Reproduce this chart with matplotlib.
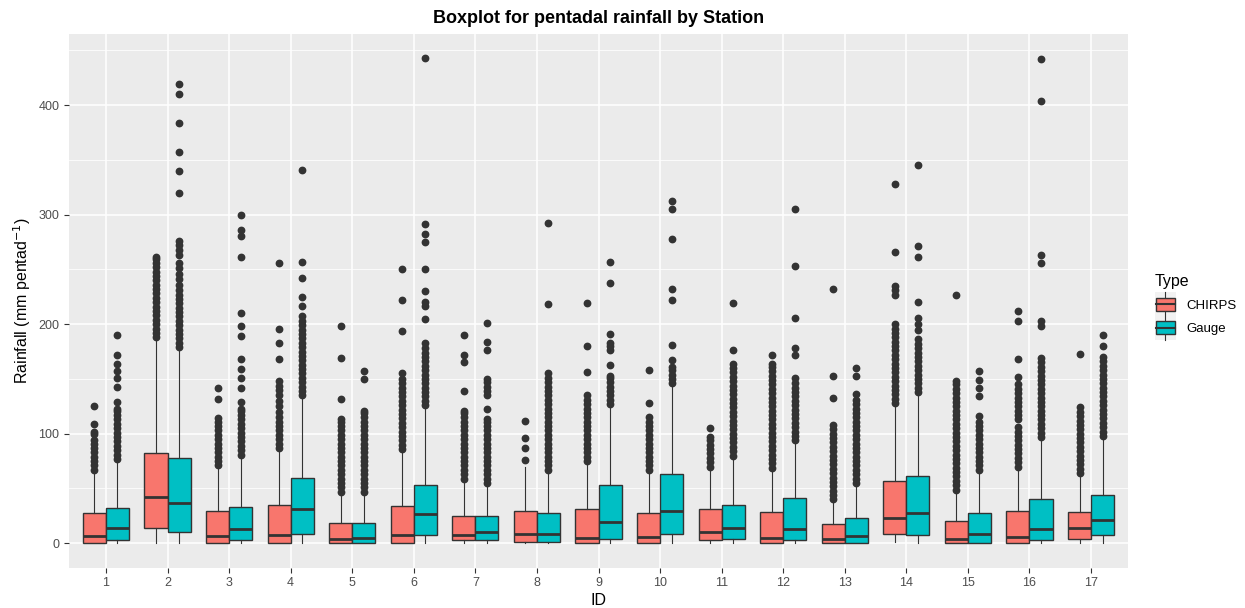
import numpy as np
import matplotlib
matplotlib.use('Agg')
import matplotlib.pyplot as plt
from matplotlib.legend_handler import HandlerBase
from matplotlib.patches import Rectangle
from matplotlib.lines import Line2D

plt.rcParams['font.family'] = ['Liberation Sans', 'DejaVu Sans']

### Data (mm pentad^-1)
ids = list(range(1, 18))
types = ['CHIRPS', 'Gauge']

q1_chirps  = [0, 14.2, 0.6, 0, 0.6, 0, 2.8, 1.6, 0, 0.6, 2.8, 0.6, 0.6, 8.8, 0.6, 0.6, 4.1]
med_chirps = [6.3, 41.9, 6.3, 7.2, 4.1, 7.2, 7.2, 8.2, 5, 6, 10, 5, 4.1, 22.7, 4.1, 6, 13.5]
q3_chirps  = [27.4, 82.8, 29.3, 34.6, 18.9, 33.7, 25.2, 29.3, 30.9, 27.4, 30.9, 28.3, 17.3, 57.3, 20.5, 29.3, 28.3]
lo_chirps  = [0, 0, 0, 0, 0, 0, 0, 0, 0, 0, 0, 0, 0, 1, 0, 0, 0]
hi_chirps  = [66, 186, 70, 86, 46, 85, 58, 70, 74, 66, 69, 68, 39, 127, 48, 69, 63]

q1_gauge  = [2.8, 10.7, 2.8, 8.8, 0.6, 7.2, 2.8, 1.6, 4.1, 8.2, 4.1, 3.1, 0.6, 7.9, 0.6, 3.1, 7.2]
med_gauge = [13.5, 36.9, 12.6, 31.5, 5, 26.8, 10, 8.2, 19.5, 29.3, 14.2, 12.6, 6.3, 27.4, 8.2, 12.6, 21.4]
q3_gauge  = [32.4, 78, 33.4, 59.8, 18.9, 52.9, 25.2, 27.4, 52.9, 63, 34.6, 41, 22.7, 61, 27.4, 40, 44]
lo_gauge  = [0] * 17
hi_gauge  = [76, 177, 80, 134, 46, 125, 54, 66, 126, 145, 79, 93, 53.5, 137, 66, 96, 97]

out_chirps = [
    [67, 71, 75, 79, 83, 87, 91, 94, 100, 102, 109, 125],
    [188, 192, 196, 200, 204, 208, 212, 216, 220, 224, 228, 232, 236, 240, 244, 248, 252, 256, 259, 261],
    [71, 75, 79, 83, 87, 91, 95, 99, 103, 107, 111, 114, 132, 142],
    [87, 91, 95, 99, 103, 107, 111, 115, 120, 125, 130, 135, 140, 144, 148, 168, 183, 196, 256],
    [47, 51, 55, 59, 63, 67, 71, 75, 79, 83, 87, 91, 95, 99, 103, 107, 111, 113, 132, 169, 198],
    [86, 90, 94, 98, 102, 106, 110, 114, 118, 122, 126, 130, 134, 138, 142, 146, 150, 155, 194, 222, 250],
    [59, 63, 67, 71, 75, 79, 83, 87, 91, 95, 99, 103, 107, 111, 115, 119, 121, 139, 165, 172, 190],
    [76, 87, 96, 112],
    [75, 79, 83, 87, 91, 95, 99, 103, 107, 111, 115, 119, 123, 127, 131, 135, 156, 180, 219],
    [67, 71, 75, 79, 83, 87, 91, 95, 99, 103, 107, 111, 115, 128, 158],
    [70, 74, 78, 82, 86, 90, 94, 97, 105],
    [69, 73, 77, 81, 85, 89, 93, 97, 101, 105, 109, 113, 117, 121, 125, 129, 133, 137, 141, 145,
     149, 153, 157, 161, 164, 172],
    [40, 44, 48, 52, 56, 60, 64, 68, 72, 76, 80, 84, 88, 92, 96, 100, 104, 108, 133, 153, 232],
    [128, 132, 136, 140, 144, 148, 152, 156, 160, 164, 168, 172, 176, 180, 184, 188, 192, 196, 200,
     227, 231, 235, 266, 328],
    [49, 53, 57, 61, 65, 69, 73, 77, 81, 85, 89, 93, 97, 101, 105, 109, 113, 117, 121, 125, 129,
     133, 137, 141, 145, 148, 227],
    [70, 74, 78, 82, 86, 90, 94, 98, 102, 106, 113, 117, 121, 125, 129, 133, 137, 141, 145, 152,
     168, 203, 212],
    [64, 68, 72, 76, 80, 84, 88, 92, 96, 100, 104, 108, 112, 116, 120, 124, 173],
]

out_gauge = [
    [77, 81, 85, 89, 93, 97, 101, 105, 109, 113, 117, 121, 123, 129, 143, 151, 157, 164, 172, 190],
    [179, 183, 187, 191, 195, 199, 203, 207, 211, 215, 219, 223, 227, 231, 236, 241, 246, 251, 256,
     263, 268, 272, 276, 320, 340, 357, 384, 410, 419],
    [81, 85, 89, 93, 97, 101, 105, 109, 113, 117, 121, 123, 129, 142, 151, 159, 168, 189, 198, 210,
     261, 280, 286, 300],
    [135, 139, 143, 147, 151, 155, 159, 163, 167, 171, 175, 179, 183, 187, 191, 195, 199, 203, 207,
     217, 225, 242, 257, 341],
    [47, 51, 55, 59, 63, 67, 71, 75, 79, 83, 87, 91, 95, 99, 103, 107, 111, 115, 119, 121, 150, 157],
    [126, 130, 134, 138, 142, 146, 150, 154, 158, 162, 166, 170, 174, 178, 183, 205, 217, 220, 230,
     250, 275, 282, 291, 443],
    [55, 59, 63, 67, 71, 75, 79, 83, 87, 91, 95, 99, 103, 107, 111, 113, 123, 135, 139, 143, 147,
     150, 176, 184, 201],
    [67, 71, 75, 79, 83, 87, 91, 95, 99, 103, 107, 111, 115, 119, 123, 127, 131, 135, 139, 143, 147,
     151, 155, 218, 292],
    [127, 131, 135, 139, 143, 147, 151, 153, 163, 176, 180, 183, 191, 238, 257],
    [146, 150, 154, 158, 161, 167, 181, 222, 232, 278, 305, 312],
    [80, 84, 88, 92, 96, 100, 104, 108, 112, 116, 120, 124, 128, 132, 136, 140, 144, 148, 152, 156,
     160, 164, 176, 219],
    [94, 98, 102, 106, 110, 114, 118, 122, 126, 130, 134, 138, 142, 146, 151, 172, 178, 206, 253, 305],
    [55, 59, 63, 67, 71, 75, 79, 83, 87, 91, 95, 99, 103, 107, 111, 115, 119, 123, 127, 131, 136,
     153, 160],
    [138, 142, 146, 150, 154, 158, 162, 166, 170, 174, 178, 182, 186, 195, 200, 206, 220, 261, 271, 345],
    [67, 71, 75, 79, 83, 87, 91, 95, 99, 103, 107, 111, 116, 134, 142, 149, 157],
    [97, 101, 105, 109, 113, 117, 121, 125, 129, 133, 137, 141, 145, 149, 153, 157, 161, 165, 169,
     198, 203, 256, 263, 404, 442],
    [98, 102, 106, 110, 114, 118, 122, 126, 130, 134, 138, 142, 146, 150, 154, 158, 162, 166, 170,
     180, 190],
]

colors = {'CHIRPS': '#F8766D', 'Gauge': '#00BFC4'}
dark = '#333333'

### Figure
fig = plt.figure(figsize=(12.45, 6.08), dpi=100)
ax = fig.add_axes([69/1245, 1 - 567.5/608, (1128 - 69)/1245, (567.5 - 34)/608])
ax.set_facecolor('#EBEBEB')
for s in ax.spines.values():
    s.set_visible(False)

ax.set_xlim(0.4, 17.6)
ax.set_ylim(-22.1, 464.8)
ax.set_yticks([0, 100, 200, 300, 400])
ax.set_yticks([50, 150, 250, 350, 450], minor=True)
ax.set_xticks(ids)
ax.grid(True, which='major', color='white', linewidth=1.1)
ax.grid(True, which='minor', axis='y', color='white', linewidth=0.55)
ax.tick_params(which='major', colors='#333333', labelcolor='#4D4D4D', labelsize=9, length=3.5, width=0.8)
ax.tick_params(which='minor', length=0)
ax.set_axisbelow(True)


def make_stats(q1, med, q3, lo, hi, outs):
    return [dict(q1=a, med=b, q3=c, whislo=d, whishi=e, fliers=f)
            for a, b, c, d, e, f in zip(q1, med, q3, lo, hi, outs)]


width = 0.375
groups = [
    ('CHIRPS', make_stats(q1_chirps, med_chirps, q3_chirps, lo_chirps, hi_chirps, out_chirps), -0.1875),
    ('Gauge',  make_stats(q1_gauge, med_gauge, q3_gauge, lo_gauge, hi_gauge, out_gauge), 0.1875),
]
for name, stats, off in groups:
    ax.bxp(stats, positions=np.array(ids) + off, widths=width, patch_artist=True,
           showcaps=False, manage_ticks=False,
           boxprops=dict(facecolor=colors[name], edgecolor=dark, linewidth=1.0),
           medianprops=dict(color=dark, linewidth=2.0, solid_capstyle='butt'),
           whiskerprops=dict(color=dark, linewidth=0.8),
           flierprops=dict(marker='o', markerfacecolor=dark, markeredgecolor=dark,
                           markersize=4.6, linestyle='none'))

ax.set_title('Boxplot for pentadal rainfall by Station', fontsize=13, fontweight='bold', pad=8)
ax.set_xlabel('ID', fontsize=11.5, labelpad=3)
ax.set_ylabel('Rainfall (mm pentad$^{-1}$)', fontsize=11.5, labelpad=4)


### Legend with boxplot glyphs
class BoxHandler(HandlerBase):
    def create_artists(self, legend, orig_handle, xdescent, ydescent, width, height, fontsize, trans):
        bg = Rectangle((-xdescent, -ydescent - 3), width, height + 6, facecolor='#F2F2F2',
                       edgecolor='none', transform=trans)
        cx = -xdescent + width / 2
        bx = Rectangle((-xdescent + 1, -ydescent + height * 0.1), width - 2, height * 0.8,
                       facecolor=orig_handle.get_facecolor(), edgecolor=dark, linewidth=1.0,
                       transform=trans)
        mid = -ydescent + height / 2
        med = Line2D([-xdescent + 1, -xdescent + width - 1], [mid, mid], color=dark, lw=1.5,
                     transform=trans)
        w1 = Line2D([cx, cx], [-ydescent - 3, -ydescent + height * 0.1], color=dark, lw=0.8,
                    transform=trans)
        w2 = Line2D([cx, cx], [-ydescent + height * 0.9, -ydescent + height + 3], color=dark, lw=0.8,
                    transform=trans)
        return [bg, w1, w2, bx, med]


handles = [Rectangle((0, 0), 1, 1, facecolor=colors[t]) for t in types]
leg = fig.legend(handles, types, handler_map={Rectangle: BoxHandler()},
                 loc='upper left', bbox_to_anchor=(1143/1245, 1 - 262/608),
                 frameon=False, title='Type', fontsize=9.5, title_fontsize=11.5,
                 handlelength=1.6, handleheight=1.5, handletextpad=0.8, labelspacing=0.55)
leg._legend_box.align = 'left'

fig.savefig('out.png', dpi=100)
